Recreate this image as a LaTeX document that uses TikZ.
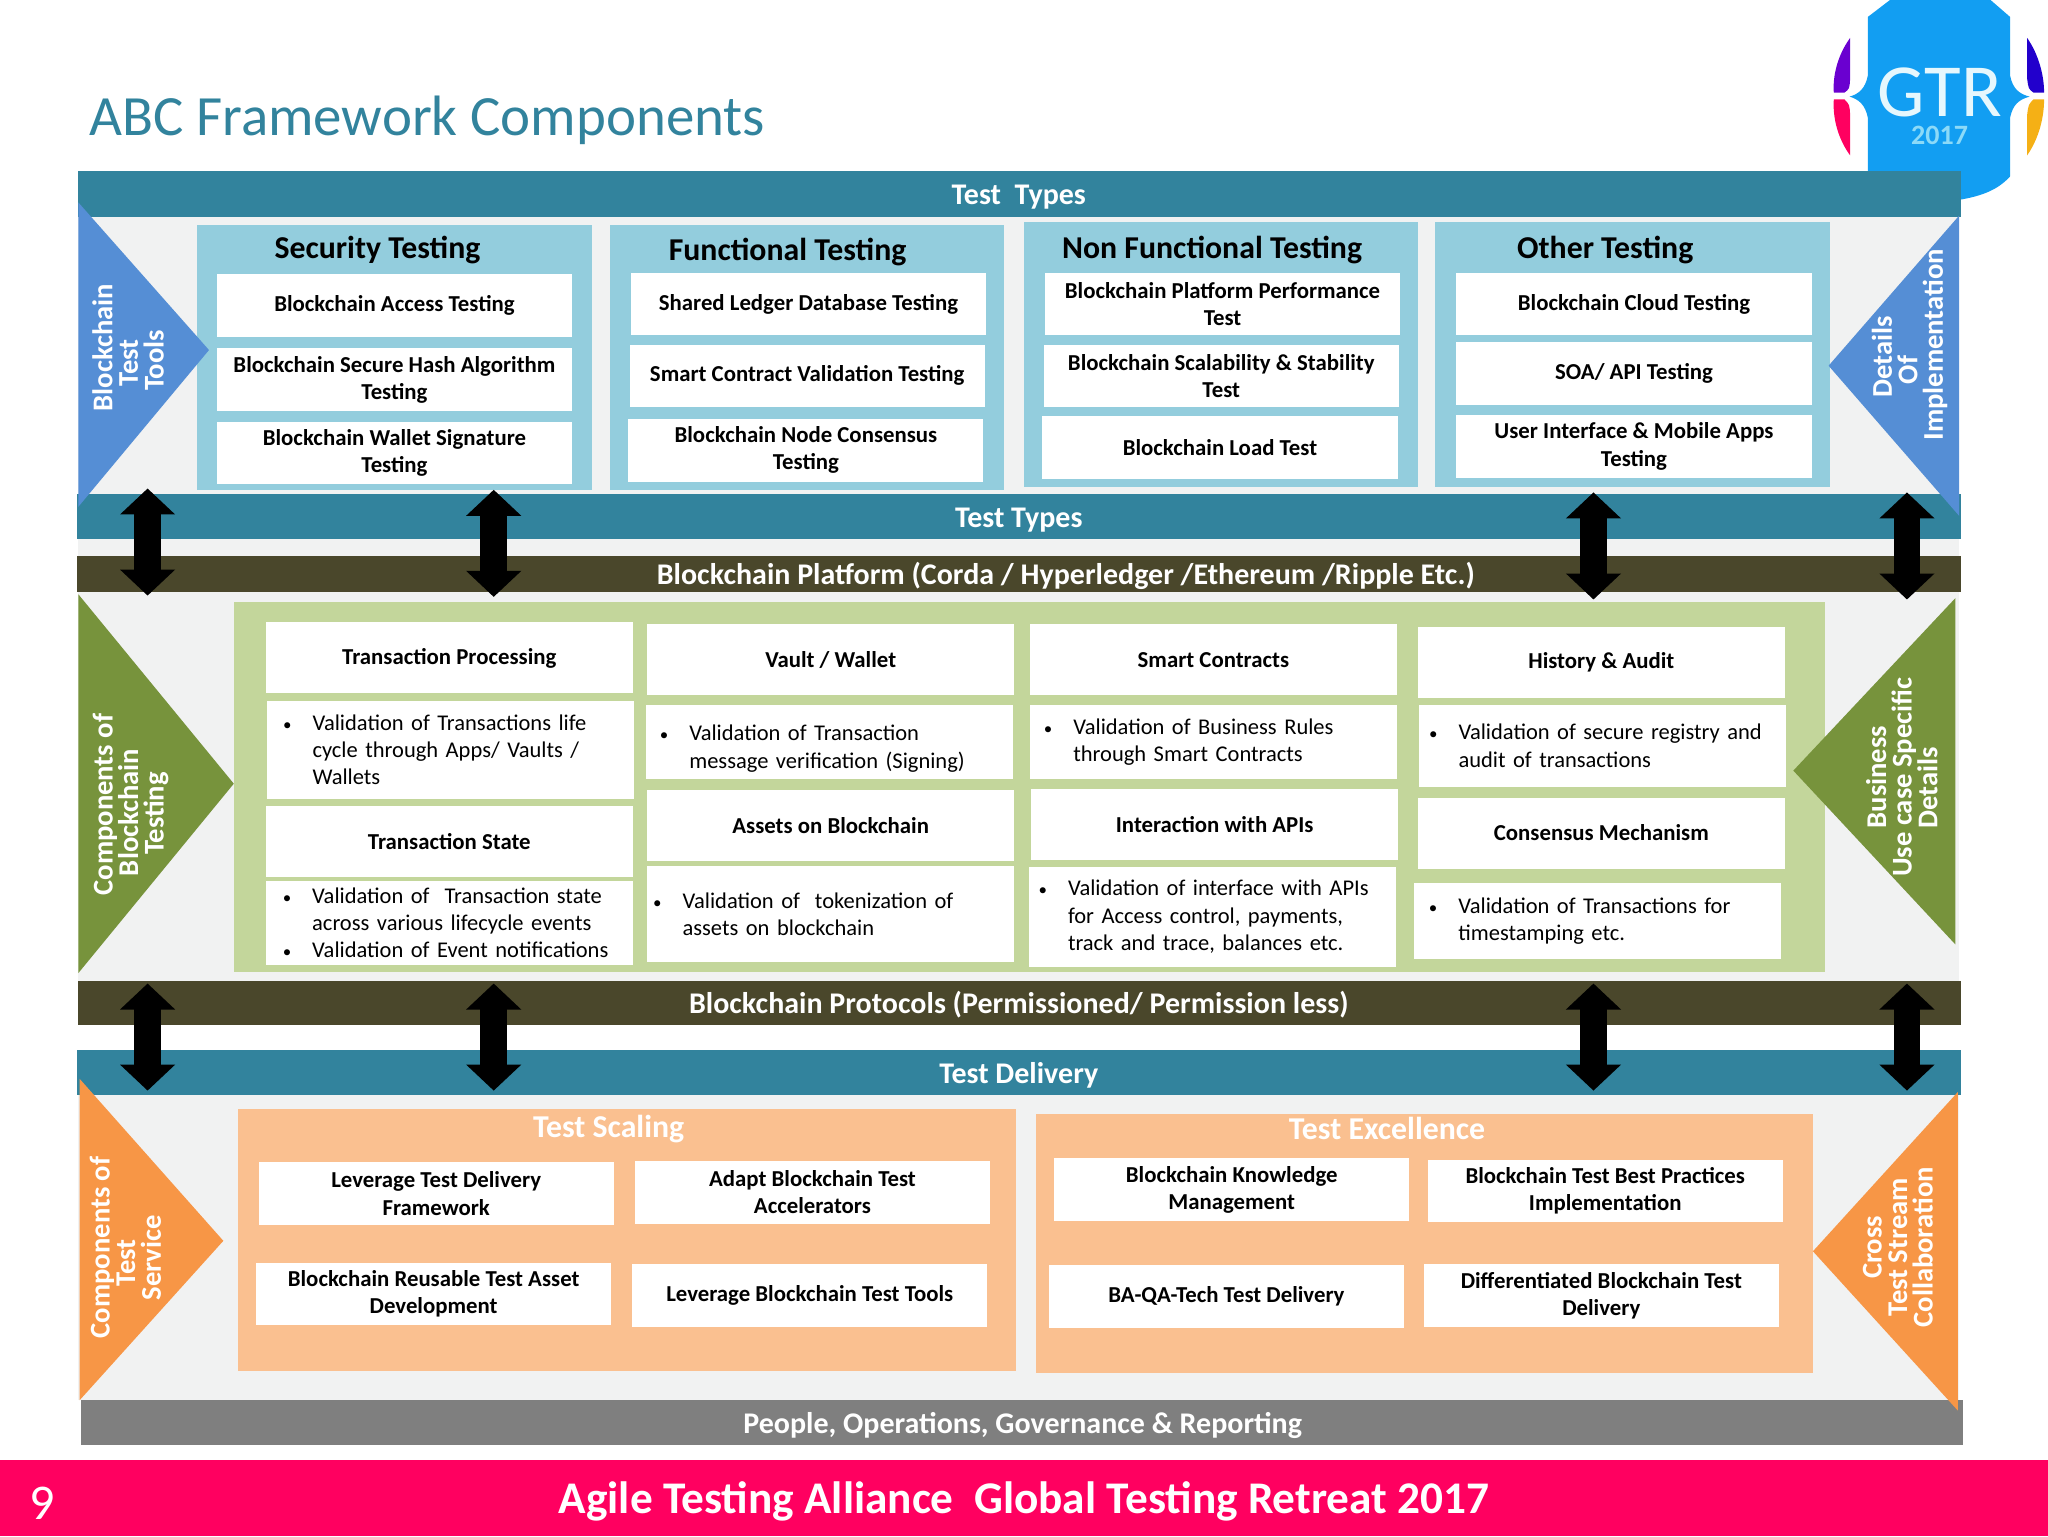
\documentclass[tikz,border=0pt]{standalone}
\usepackage{fontspec}
\setmainfont{Carlito}
\usetikzlibrary{arrows.meta}

\definecolor{barteal}{HTML}{32839D}
\definecolor{barolive}{HTML}{4A472B}
\definecolor{bargrey}{HTML}{7F7F7F}
\definecolor{panelgrey}{HTML}{F1F2F2}
\definecolor{footpink}{HTML}{FF0060}
\definecolor{triblue}{HTML}{558ED5}
\definecolor{trigreen}{HTML}{77933C}
\definecolor{triorange}{HTML}{F79646}
\definecolor{panelblue}{HTML}{93CDDD}
\definecolor{panelgreen}{HTML}{C3D69B}
\definecolor{panelorange}{HTML}{FAC090}
\definecolor{logoblue}{HTML}{129EF2}
\definecolor{logoviolet}{HTML}{6A00D0}
\definecolor{logoindigo}{HTML}{2200CC}
\definecolor{logoamber}{HTML}{F5B015}

\newcommand{\bul}{\makebox[13.7pt][l]{\kern-1pt\fontsize{8.5}{8.5}\selectfont\textbullet}}
\newcommand{\nxt}{\hspace*{13.7pt}}

\tikzset{
  barlabel/.style={text=white, yshift=-0.8pt, font=\fontsize{15}{17}\selectfont\bfseries},
  sidelabel/.style={text=white, rotate=90, align=center, font=\fontsize{14.3}{12.8}\selectfont\bfseries},
  headlabel/.style={yshift=-0.8pt, font=\fontsize{15.9}{18}\selectfont\bfseries},
  whitebox/.style={fill=white, inner sep=0pt, yshift=-0.5pt, align=center, font=\fontsize{11.4}{13.6}\selectfont\bfseries},
  bulletbox/.style={fill=white, inner xsep=3pt, inner ysep=0pt, text width=177.5pt,
    minimum width=183.5pt, align=left, font=\fontsize{11.25}{13.7}\selectfont,
    execute at begin node={\leftskip=#1\relax}},
  dblarrow/.style={line width=13.4pt, {Triangle[length=13pt,width=26.8pt]}-{Triangle[length=13pt,width=26.8pt]}}
}

\begin{document}
\begin{tikzpicture}[x=0.65306pt,y=-0.65306pt]
      \useasboundingbox (0,0) rectangle (1568,1176);

      % logo
      \fill[logoblue] (1430,13) -- (1447,0) -- (1524,0) -- (1539,13) -- (1539,58)
        .. controls (1541,68) and (1546,72) .. (1554,74)
        .. controls (1546,76) and (1541,80) .. (1539,90)
        -- (1539,135) .. controls (1530,145) and (1518,150) .. (1500,153) -- (1430,153) -- (1430,90)
        .. controls (1428,80) and (1423,76) .. (1416,74)
        .. controls (1423,72) and (1428,68) .. (1430,58) -- cycle;
      \fill[logoviolet] (1416.5,29) .. controls (1407,42) and (1403,58) .. (1404,71) -- (1412,71)
        .. controls (1416,68) .. (1416.5,60) -- cycle;
      \fill[footpink] (1416.5,119) .. controls (1407,106) and (1403,90) .. (1404,76) -- (1412,76)
        .. controls (1416,80) .. (1416.5,88) -- cycle;
      \fill[logoindigo] (1552,29) .. controls (1561,42) and (1565,58) .. (1565,71) -- (1557,71)
        .. controls (1553,68) .. (1552,60) -- cycle;
      \fill[logoamber] (1552,119) .. controls (1561,106) and (1565,90) .. (1565,76) -- (1557,76)
        .. controls (1553,80) .. (1552,88) -- cycle;
      \node[text=cyan!10, inner sep=0pt, font=\fontsize{37.5}{38}\selectfont] (gtr) at (1485,71) {GTR};
      \node[text=cyan!45, inner sep=0pt, font=\fontsize{14}{14}\selectfont\bfseries] (year) at (1485,104) {2017};

      \node[anchor=base west, text=barteal, font=\fontsize{28.45}{32}\selectfont, inner sep=0pt] (title) at (68,104) {ABC Framework Components};

      % grey backgrounds
      \fill[panelgrey] (60,166) rectangle (1500,426);
      \fill[panelgrey] (60,453) rectangle (1500,751);
      \fill[panelgrey] (60,838) rectangle (1500,1072);

      % coloured panels
      \fill[panelblue] (151,172) rectangle (453,375);
      \fill[panelblue] (467,172) rectangle (769,375);
      \fill[panelblue] (784,170) rectangle (1086,373);
      \fill[panelblue] (1099,170) rectangle (1401,373);
      \fill[panelgreen] (179,461) rectangle (1397,744);
      \fill[panelorange] (182,849) rectangle (778,1050);
      \fill[panelorange] (793,853) rectangle (1388,1051);

      % bars
      \fill[barteal] (60,131) rectangle (1501,166);
      \fill[barteal] (59,378) rectangle (1501,413);
      \fill[barolive] (59,426) rectangle (1501,453);
      \fill[barolive] (60,751) rectangle (1501,785);
      \fill[barteal] (59,804) rectangle (1501,838);
      \fill[bargrey] (62,1072) rectangle (1503,1106);
      \fill[footpink] (0,1118) rectangle (1568,1176);

      % triangles
      \fill[triblue] (60,155) -- (160,268) -- (60,388) -- cycle;
      \fill[triblue] (1500,165) -- (1400,280) -- (1500,395) -- cycle;
      \fill[trigreen] (60,455) -- (179,600) -- (60,745) -- cycle;
      \fill[trigreen] (1497,458) -- (1373,590) -- (1497,723) -- cycle;
      \fill[triorange] (61,826) -- (171,950) -- (61,1072) -- cycle;
      \fill[triorange] (1499,836) -- (1388,958) -- (1499,1080) -- cycle;

      \begin{scope}[every node/.style={barlabel}]
        \node (tt1) at (780,150) {Test\ \ Types};
        \node (tt2) at (780,397) {Test Types};
        \node (plat) at (816,440) {Blockchain Platform (Corda / Hyperledger /Ethereum /Ripple Etc.)};
        \node (prot) at (780,768) {Blockchain Protocols (Permissioned/ Permission less)};
        \node (deliv) at (780,822) {Test Delivery};
        \node (people) at (783,1090) {People, Operations, Governance \& Reporting};
      \end{scope}

      \node[text=white, font=\fontsize{25}{26}\selectfont] (page) at (32,1151) {9};
      \node[text=white, font=\fontsize{22.65}{26}\selectfont\bfseries] (foot) at (784,1149.5) {Agile Testing Alliance\ \ Global Testing Retreat 2017};

      \begin{scope}[every node/.style={sidelabel}]
        \node (s1) at (98,266) {Blockchain\\Test\kern15.7pt\\Tools\kern13pt};
        \node (s2) at (1462,264) {Details\kern11.7pt\\Of\kern25pt\\Implementation};
        \node (s3) at (100,616) {Components of\\Blockchain\kern7.8pt\\Testing\kern9pt};
        \node (s4) at (1456,595) {Business\\Use case Specific\\Details\kern10.4pt};
        \node (s5) at (96,955) {Components of\\Test\kern15.7pt\\Service\kern10.5pt};
        \node (s6) at (1453,955) {Cross\\Test Stream\\Collaboration};
      \end{scope}

      \begin{scope}[every node/.style={headlabel}]
        \node (h1) at (289,190) {Security Testing};
        \node (h2) at (603,192) {Functional Testing};
        \node (h3) at (928,190) {Non Functional Testing};
        \node (h4) at (1229,190) {Other Testing};
        \node[text=white] (h5) at (466,863) {Test Scaling};
        \node[text=white] (h6) at (1062,863) {Test Excellence};
      \end{scope}

      \begin{scope}[every node/.style={whitebox, minimum width=177.6pt, minimum height=31.3pt}]
        \node (a1) at (302,233) {Blockchain Access Testing};
        \node (a2) at (302,290) {Blockchain Secure Hash Algorithm\\Testing};
        \node (a3) at (302,346) {Blockchain Wallet Signature\\Testing};
        \node (b1) at (619,232) {Shared Ledger Database Testing};
        \node (b2) at (618,287) {Smart Contract Validation Testing};
        \node (b3) at (617,344) {Blockchain Node Consensus\\Testing};
        \node (c1) at (936,232) {Blockchain Platform Performance\\Test};
        \node (c2) at (935,287) {Blockchain Scalability \& Stability\\Test};
        \node (c3) at (934,342) {Blockchain Load Test};
        \node (d1) at (1251,232) {Blockchain Cloud Testing};
        \node (d2) at (1251,285) {SOA/ API Testing};
        \node (d3) at (1251,341) {User Interface \& Mobile Apps\\Testing};
        \node (e1) at (334,913) {Leverage Test Delivery\\Framework};
        \node (e2) at (622,912) {Adapt Blockchain Test\\Accelerators};
        \node (e3) at (332,990) {Blockchain Reusable Test Asset\\Development};
        \node (e4) at (620,991) {Leverage Blockchain Test Tools};
        \node (f1) at (943,910) {Blockchain Knowledge\\Management};
        \node (f2) at (1229,911) {Blockchain Test Best Practices\\Implementation};
        \node (f3) at (939,992) {BA-QA-Tech Test Delivery};
        \node (f4) at (1226,991) {Differentiated Blockchain Test\\Delivery};
      \end{scope}

      \begin{scope}[every node/.style={whitebox, minimum width=183.5pt, minimum height=35.5pt}]
        \node (g1) at (344,503) {Transaction Processing};
        \node (g2) at (344,643.5) {Transaction State};
        \node (g3) at (636,504.5) {Vault / Wallet};
        \node (g4) at (636,631.5) {Assets on Blockchain};
        \node (g5) at (929,504.5) {Smart Contracts};
        \node (g6) at (930,630.5) {Interaction with APIs};
        \node (g7) at (1226,506.5) {History \& Audit};
        \node (g8) at (1226,637) {Consensus Mechanism};
      \end{scope}

      \node[bulletbox=6pt, minimum height=49pt] (v1) at (345,574) {\bul Validation of Transactions life\\\nxt cycle through Apps/ Vaults /\\\nxt Wallets};
      \node[bulletbox=6.5pt, minimum height=42pt] (v2) at (344,706.5) {\bul Validation of\ \ Transaction state\\\nxt across various lifecycle events\\\bul Validation of Event notifications};
      \node[bulletbox=5pt, minimum height=37pt] (v3) at (635,568) {\rule{0pt}{14.5pt}\bul Validation of Transaction\\\nxt message verification (Signing)};
      \node[bulletbox=1pt, minimum height=48pt] (v4) at (636,700) {\bul Validation of\ \ tokenization of\\\nxt assets on blockchain\par\vspace*{4pt}};
      \node[bulletbox=5pt, minimum height=37pt] (v5) at (929,568) {\bul Validation of Business Rules\\\nxt through Smart Contracts};
      \node[bulletbox=3pt, minimum height=50pt] (v6) at (928,702) {\bul Validation of interface with APIs\\\nxt for Access control, payments,\\\nxt track and trace, balances etc.};
      \node[bulletbox=3pt, minimum height=41pt] (v7) at (1227,571) {\bul Validation of secure registry and\\\nxt audit of transactions};
      \node[bulletbox=5.5pt, minimum height=38pt] (v8) at (1223,705) {\bul Validation of Transactions for\\\nxt timestamping etc.};

      % double arrows
      \foreach \name/\xpos/\ytop/\ybot in {p/113/374/456, q/378/375/457, r/1220/377/459, t/1460/377/459,
                                          u/113/753/835, v/378/753/835, w/1220/753/835, z/1460/753/835}{
        \coordinate (\name1) at (\xpos,\ytop);
        \coordinate (\name2) at (\xpos,\ybot);
        \draw[dblarrow] (\name1) -- (\name2);
      }

    \end{tikzpicture}
\end{document}
